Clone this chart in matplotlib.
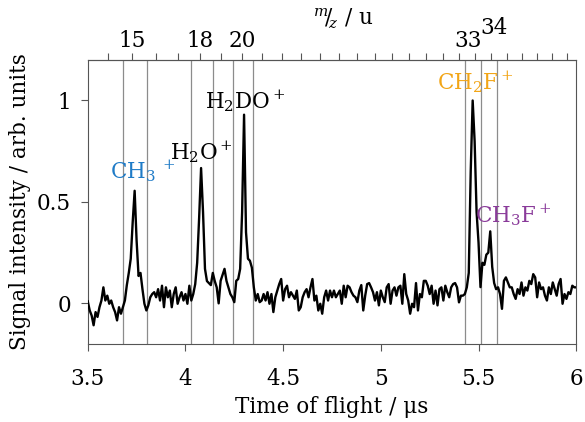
import numpy as np
import matplotlib
matplotlib.use("Agg")
import matplotlib.pyplot as plt
from matplotlib import transforms

plt.rcParams['font.family'] = ['DejaVu Serif']
plt.rcParams['mathtext.fontset'] = 'dejavuserif'

# ---------------- data ----------------
t_start, t_stop = 3.50, 6.00
signal = [
    # 3.50 - 3.59
    0.010, -0.035, -0.060, -0.108, -0.043, -0.067, -0.019, 0.014, 0.079, 0.014,
    # 3.60 - 3.69
    0.038, -0.002, 0.014, -0.019, -0.043, -0.084, -0.019, -0.051, -0.019, 0.014,
    # 3.70 - 3.79
    0.090, 0.150, 0.220, 0.400, 0.555, 0.310, 0.135, 0.150, 0.070, -0.002,
    # 3.80 - 3.89
    -0.035, -0.010, 0.030, 0.046, 0.055, 0.030, 0.070, 0.014, 0.087, -0.019,
    # 3.90 - 3.99
    0.079, 0.030, 0.063, -0.019, 0.046, 0.079, -0.002, 0.030, 0.055, 0.014,
    # 4.00 - 4.09
    0.046, -0.002, 0.087, 0.014, 0.046, 0.095, 0.200, 0.420, 0.667, 0.450,
    # 4.10 - 4.19
    0.170, 0.110, 0.100, 0.090, 0.150, 0.110, 0.079, 0.000, 0.111, 0.140,
    # 4.20 - 4.29
    0.170, 0.111, 0.079, 0.046, 0.030, 0.006, 0.111, 0.120, 0.170, 0.450,
    # 4.30 - 4.39
    0.930, 0.350, 0.220, 0.210, 0.176, 0.079, 0.014, 0.046, 0.006, 0.014,
    # 4.40 - 4.49
    0.046, 0.014, 0.055, -0.002, 0.046, -0.043, 0.030, 0.063, 0.095, 0.120,
    # 4.50 - 4.59
    0.014, 0.070, 0.087, 0.030, 0.055, 0.038, 0.022, 0.063, -0.035, -0.019,
    # 4.60 - 4.69
    0.030, 0.055, 0.070, 0.030, 0.079, 0.120, 0.014, 0.038, -0.035, -0.002,
    # 4.70 - 4.79
    -0.051, 0.030, 0.063, 0.014, 0.063, 0.030, 0.063, 0.030, 0.046, 0.063,
    # 4.80 - 4.89
    -0.002, 0.087, 0.030, 0.087, 0.079, 0.055, 0.038, 0.030, 0.006, 0.063,
    # 4.90 - 4.99
    0.090, -0.035, 0.038, 0.095, 0.100, 0.079, 0.055, 0.014, 0.055, -0.010,
    # 5.00 - 5.09
    0.063, 0.030, 0.006, 0.079, 0.095, -0.002, 0.063, 0.079, 0.038, 0.079,
    # 5.10 - 5.19
    0.087, -0.002, 0.144, 0.046, 0.014, -0.051, -0.002, -0.019, 0.100, -0.035,
    # 5.20 - 5.29
    0.046, 0.030, 0.111, 0.111, 0.087, 0.046, 0.087, -0.002, 0.063, -0.010,
    # 5.30 - 5.39
    0.070, 0.079, 0.014, 0.087, 0.055, 0.030, 0.079, 0.095, 0.100, 0.079,
    # 5.40 - 5.49
    0.005, 0.038, 0.038, 0.046, 0.079, 0.150, 0.650, 1.000, 0.800, 0.450,
    # 5.50 - 5.59
    0.300, 0.080, 0.200, 0.190, 0.240, 0.250, 0.355, 0.180, 0.100, 0.070,
    # 5.60 - 5.69
    0.079, 0.046, -0.027, 0.111, 0.128, 0.103, 0.079, 0.079, 0.046, 0.022,
    # 5.70 - 5.79
    0.070, 0.046, 0.103, 0.038, 0.079, 0.063, 0.111, 0.095, 0.144, 0.128,
    # 5.80 - 5.89
    0.030, 0.103, 0.070, 0.079, 0.038, 0.014, 0.079, 0.046, 0.103, 0.070,
    # 5.90 - 6.00
    0.038, 0.095, 0.120, -0.002, 0.046, 0.022, 0.055, 0.046, 0.087, 0.079,
    0.079,
]
time_us = np.linspace(t_start, t_stop, len(signal))

# integration-window boundaries (time of flight, us)
window_edges = [3.682, 3.802, 4.028, 4.139, 4.244, 4.346, 5.432, 5.512, 5.592]

# mass calibration t = a*sqrt(m/z) + b
cal_a, cal_b = 0.938, 0.095
mz_labels = [15, 18, 20, 33, 34]
mz_minor = list(range(14, 40))

# peak annotations
ion_names = [r"CH$_3$$\,^+$", r"H$_2$O$^+$", r"H$_2$DO$^+$", r"CH$_2$F$^+$", r"CH$_3$F$^+$"]
ion_x = [3.778, 4.080, 4.305, 5.483, 5.680]
ion_y = [0.650, 0.745, 0.995, 1.090, 0.435]
ion_colors = ["#1f7bc7", "black", "black", "#f2a516", "#8a3b9a"]

x_ticks = [3.5, 4.0, 4.5, 5.0, 5.5, 6.0]
x_ticklabels = ["3.5", "4", "4.5", "5", "5.5", "6"]
y_ticks = [0, 0.5, 1]
y_ticklabels = ["0", "0.5", "1"]

# ---------------- figure ----------------
fs = 15.5
fig = plt.figure(figsize=(5.85, 4.22), dpi=100)
ax = fig.add_axes([0.150, 0.185, 0.835, 0.673])

for xe in window_edges:
    ax.axvline(xe, color="#8c8c8c", lw=0.9, zorder=1)

ax.plot(time_us, signal, color="black", lw=1.7, zorder=3)

ax.set_xlim(3.5, 6.0)
ax.set_ylim(-0.2, 1.2)
ax.set_xticks(x_ticks)
ax.set_xticklabels(x_ticklabels, fontsize=fs)
ax.set_yticks(y_ticks)
ax.set_yticklabels(y_ticklabels, fontsize=fs)
ax.tick_params(axis="both", direction="out", length=5, width=0.8, color="#555555")
ax.tick_params(axis="x", pad=12)
ax.tick_params(axis="y", pad=7)
ax.set_xlabel("Time of flight / μs", fontsize=fs, labelpad=5)
ax.set_ylabel("Signal intensity / arb. units", fontsize=fs, labelpad=4)
for sp in ax.spines.values():
    sp.set_color("#555555")
    sp.set_linewidth(0.8)


def t2m(t):
    t = np.asarray(t, dtype=float)
    return (np.clip(t - cal_b, 0, None) / cal_a) ** 2


def m2t(m):
    m = np.asarray(m, dtype=float)
    return cal_a * np.sqrt(np.clip(m, 0, None)) + cal_b


sec = ax.secondary_xaxis("top", functions=(t2m, m2t))
sec.set_xticks(mz_minor)
sec.set_xticklabels([""] * len(mz_minor))
sec.tick_params(direction="out", length=5, width=0.8, color="#555555")
sec.spines["top"].set_color("#555555")

# top tick labels as texts (33 / 34 collide in the reference)
offsets = {33: (-5, 0), 34: (2, 9)}
blend = transforms.blended_transform_factory(ax.transData, ax.transAxes)
for m in mz_labels:
    dx, dy = offsets.get(m, (0, 0))
    tr = blend + transforms.ScaledTranslation(dx / 72, (dy + 6) / 72, fig.dpi_scale_trans)
    ax.text(float(m2t(m)), 1.0, str(m), transform=tr, ha="center", va="bottom", fontsize=fs)

ax.text(0.523, 1.0, r"$^{m}\!/\!_{z}$ / u",
        transform=ax.transAxes + transforms.ScaledTranslation(0, 21 / 72, fig.dpi_scale_trans),
        ha="center", va="bottom", fontsize=fs)

for name, x, y, c in zip(ion_names, ion_x, ion_y, ion_colors):
    ax.text(x, y, name, color=c, fontsize=fs, ha="center", va="center", zorder=4)

fig.savefig("out.png", dpi=100)
